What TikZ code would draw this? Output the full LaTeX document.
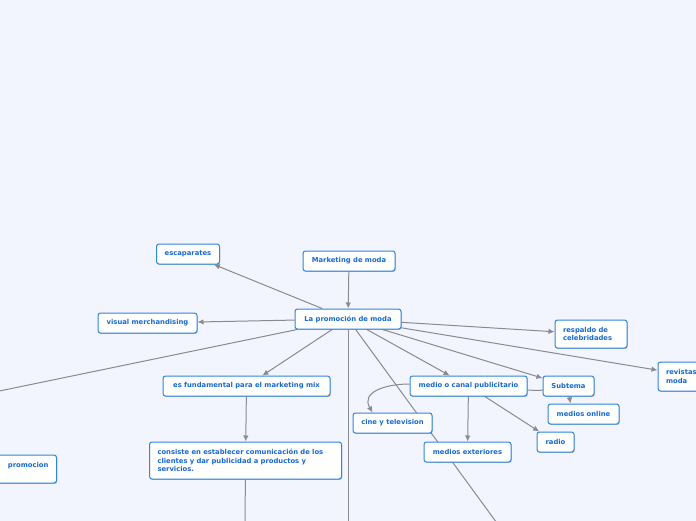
\documentclass[tikz,border=0pt]{standalone}
\usepackage{fontspec}
\setmainfont{DejaVu Sans}
\usetikzlibrary{arrows.meta,shadows,backgrounds}
\hyphenpenalty=10000
\exhyphenpenalty=10000
\definecolor{bgc}{HTML}{F2F5FE}
\definecolor{bordc}{HTML}{2F86DD}
\definecolor{txtc}{HTML}{1769D4}
\definecolor{linec}{HTML}{8A8A90}
\tikzset{
  box/.style={draw=bordc, line width=1pt, fill=white, rounded corners=2.5pt,
    text=txtc, font={\fontsize{6.8}{8.6}\selectfont\bfseries}, minimum height=20pt,
    inner xsep=8pt, inner ysep=3pt,
    drop shadow={shadow xshift=0.7pt, shadow yshift=-0.9pt, opacity=0.25, fill=black}},
  conn/.style={draw=linec, line width=1pt},
  arr/.style={conn, -{Latex[length=6pt,width=5.5pt]}}
}
\begin{document}
\begin{tikzpicture}[x=1pt,y=-1pt]
\useasboundingbox (0,0) rectangle (696,520);
\clip (0,0) rectangle (696,520);
% coordinates for off-canvas ends
\coordinate (offL) at (-20,395);
\coordinate (offD) at (348,530);
\coordinate (offR) at (502,530);
\coordinate (offC) at (245,530);
% nodes
\node[box, minimum width=63pt] (esc) at (188,254) {escaparates};
\node[box, minimum width=92pt] (mkt) at (349,261) {Marketing de moda};
\node[box, minimum width=106pt] (promo) at (348,319) {La promoción de moda};
\node[box, minimum width=99pt] (vm) at (147.5,323) {visual merchandising};
\node[box, minimum width=167pt] (fund) at (246.5,386) {es fundamental para el marketing mix};
\node[box, text width=176pt, align=left, minimum height=37pt] (cons) at (245.5,460.5)
  {consiste en establecer comunicación de los\\clientes y dar publicidad a productos y\\servicios.};
\node[box, anchor=east, text width=100pt, align=right, minimum height=28pt] (left) at (57,469)
  {promocion\hspace*{7pt}\\\mbox{}};
\node[box, minimum width=117pt] (medio) at (468.5,386) {medio o canal publicitario};
\node[box, minimum width=79pt] (cine) at (392.5,423) {cine y television};
\node[box, minimum width=87pt] (ext) at (467.5,452) {medios exteriores};
\node[box, minimum width=37pt] (radio) at (555.5,442) {radio};
\node[box, minimum width=51pt] (sub) at (568.5,386) {Subtema};
\node[box, minimum width=71pt] (online) at (583.5,414) {medios online};
\node[box, text width=56pt, align=left, minimum height=28pt] (resp) at (591,334) {respaldo de\\celebridades};
\node[box, text width=60pt, align=left, minimum height=29pt] (rev) at (696,376.5) {revistas\\moda};
% connectors
\begin{scope}[on background layer]
\fill[bgc] (-30,-10) rectangle (730,540);
\draw[arr] (mkt) -- (promo);
\draw[arr] (promo) -- (esc);
\draw[arr] (promo) -- (vm);
\draw[conn] (promo) -- (offL);
\draw[arr] (promo) -- (fund);
\draw[conn] (promo) -- (offD);
\draw[conn] (promo) -- (offR);
\draw[arr] (promo) -- (medio);
\draw[arr] (promo) -- (sub);
\draw[arr] (promo) -- (resp);
\draw[arr] (promo) -- (rev);
\draw[arr] (fund) -- (cons);
\draw[conn] (cons) -- (offC);
\draw[arr] ([yshift=2pt]medio.west) to[out=180,in=120,looseness=1.3] ([xshift=-20pt]cine.north);
\draw[arr] (medio) -- (ext);
\draw[arr] (medio) -- (radio);
\draw[arr] ([yshift=-4pt]medio.east) to[out=-5,in=100] ([xshift=-13pt]online.north);
\end{scope}
\end{tikzpicture}
\end{document}
